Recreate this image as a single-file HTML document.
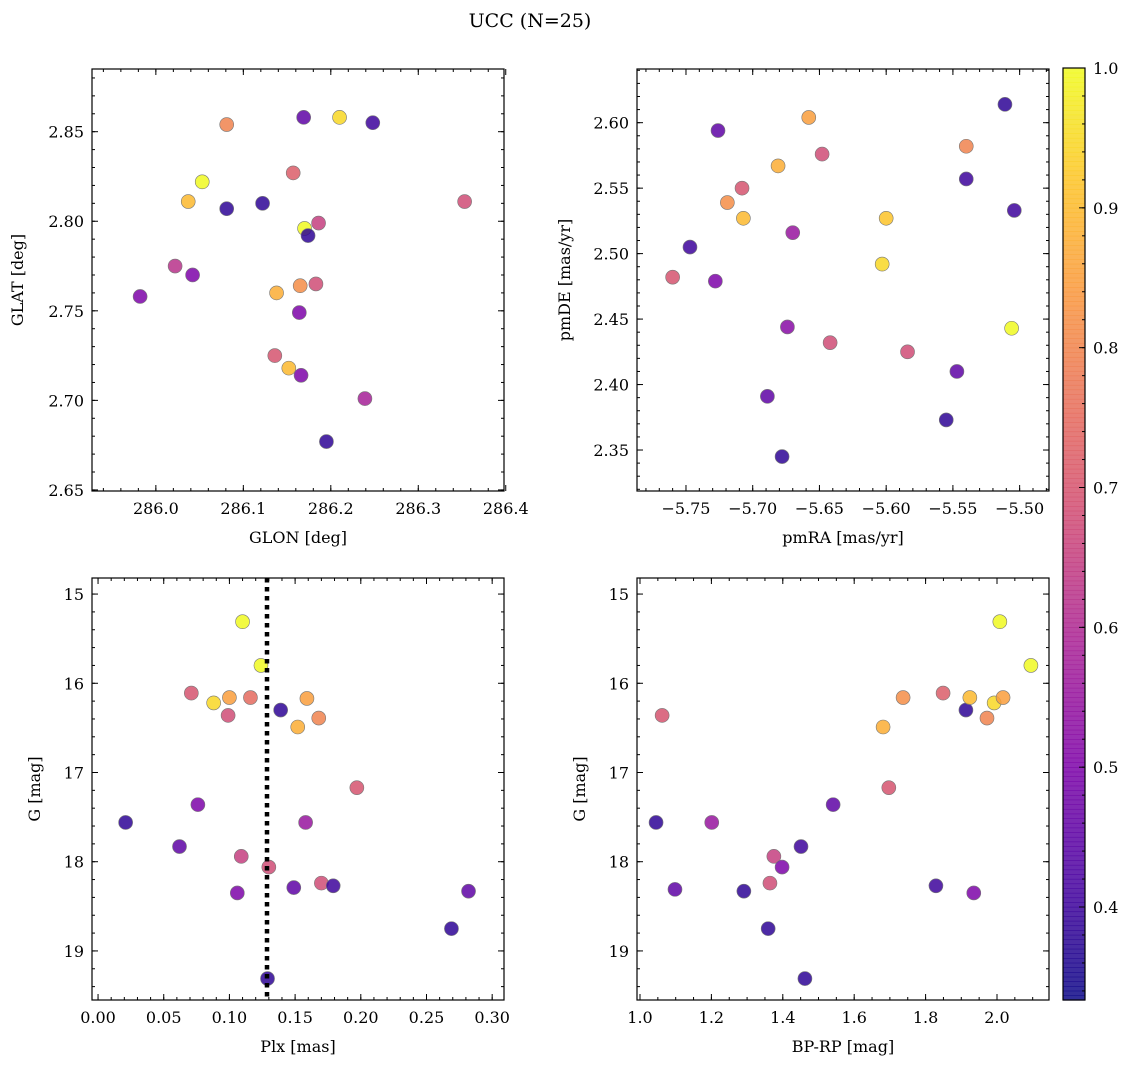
<!DOCTYPE html>
<html><head><meta charset="utf-8"><style>
body{margin:0;background:#fff}
svg text{font-family:"DejaVu Serif","Liberation Serif",serif;fill:#000}
</style></head><body>
<svg id="fig" width="1136" height="1068" viewBox="0 0 1136 1068" xmlns="http://www.w3.org/2000/svg">
<text x="530" y="27" text-anchor="middle" font-size="19">UCC (N=25)</text>
</svg>
<script>
// Panel 1: GLON vs GLAT
const glon=[285.982,286.022,286.042,286.037,286.053,286.081,286.081,286.122,286.138,286.136,286.152,286.157,286.164,286.165,286.166,286.169,286.170,286.174,286.183,286.186,286.195,286.210,286.239,286.248,286.353];
const glat=[2.758,2.775,2.770,2.811,2.822,2.854,2.807,2.810,2.760,2.725,2.718,2.827,2.749,2.764,2.714,2.858,2.796,2.792,2.765,2.799,2.677,2.858,2.701,2.855,2.811];
const prob1=[0.5,0.62,0.5,0.9,1.0,0.8,0.38,0.38,0.88,0.7,0.9,0.72,0.5,0.82,0.5,0.45,1.0,0.38,0.68,0.65,0.38,0.95,0.58,0.4,0.68];
// Panel 2: pmRA vs pmDE
const pmra=[-5.760,-5.747,-5.726,-5.728,-5.719,-5.708,-5.707,-5.689,-5.681,-5.678,-5.674,-5.670,-5.658,-5.648,-5.642,-5.603,-5.600,-5.584,-5.555,-5.547,-5.540,-5.540,-5.511,-5.506,-5.504];
const pmde=[2.482,2.505,2.594,2.479,2.539,2.550,2.527,2.391,2.567,2.345,2.444,2.516,2.604,2.576,2.432,2.492,2.527,2.425,2.373,2.410,2.557,2.582,2.614,2.443,2.533];
const prob2=[0.7,0.4,0.45,0.5,0.82,0.7,0.9,0.45,0.88,0.38,0.52,0.55,0.85,0.68,0.68,0.95,0.92,0.68,0.38,0.45,0.4,0.8,0.38,1.0,0.4];
// Panel 3: Plx vs G
const plx=[0.021,0.062,0.071,0.076,0.088,0.100,0.099,0.106,0.109,0.110,0.116,0.124,0.130,0.129,0.139,0.149,0.152,0.159,0.158,0.168,0.170,0.179,0.197,0.269,0.282];
const gmag3=[17.56,17.83,16.11,17.36,16.22,16.16,16.36,18.35,17.94,15.31,16.16,15.80,18.06,19.31,16.30,18.29,16.49,16.17,17.56,16.39,18.24,18.27,17.17,18.75,18.33];
const prob3=[0.38,0.45,0.7,0.5,0.95,0.85,0.68,0.5,0.65,1.0,0.75,1.0,0.68,0.38,0.38,0.45,0.88,0.85,0.55,0.8,0.68,0.4,0.7,0.38,0.45];
const plxLine=[0.1286];
// Panel 4: BP-RP vs G
const bprp=[1.045,1.062,1.098,1.201,1.291,1.359,1.364,1.375,1.398,1.451,1.462,1.541,1.681,1.697,1.737,1.829,1.849,1.913,1.924,1.935,1.972,1.992,2.008,2.017,2.095];
const gmag4=[17.56,16.36,18.31,17.56,18.33,18.75,18.24,17.94,18.06,17.83,19.31,17.36,16.49,17.17,16.16,18.27,16.11,16.30,16.16,18.35,16.39,16.22,15.31,16.16,15.80];
const prob4=[0.38,0.7,0.45,0.55,0.38,0.38,0.68,0.65,0.5,0.4,0.38,0.45,0.88,0.7,0.82,0.4,0.72,0.38,0.9,0.5,0.8,0.95,1.0,0.85,1.0];
// Tick labels
const ticks1x=[286.0,286.1,286.2,286.3,286.4], ticks1y=[2.65,2.70,2.75,2.80,2.85];
const ticks2x=[-5.75,-5.70,-5.65,-5.60,-5.55,-5.50], ticks2y=[2.35,2.40,2.45,2.50,2.55,2.60];
const ticks3x=[0,0.05,0.10,0.15,0.20,0.25,0.30], ticksGy=[15,16,17,18,19];
const ticks4x=[1.0,1.2,1.4,1.6,1.8,2.0];
const cbTicks=[0.4,0.5,0.6,0.7,0.8,0.9,1.0];
const cmin=0.3335,cmax=1.0;

const NS="http://www.w3.org/2000/svg";
const svg=document.getElementById('fig');
function el(t,a,p){const e=document.createElementNS(NS,t);for(const k in a)e.setAttribute(k,a[k]);(p||svg).appendChild(e);return e;}
const stops=[[0,[13,8,135]],[0.13,[75,3,161]],[0.25,[125,3,168]],[0.38,[168,34,150]],[0.5,[203,70,121]],[0.63,[229,107,93]],[0.75,[248,148,65]],[0.88,[253,195,40]],[1,[240,249,33]]];
function plasma(t){t=Math.max(0,Math.min(1,t));for(let i=1;i<stops.length;i++){if(t<=stops[i][0]){const a=stops[i-1],b=stops[i];const f=(t-a[0])/(b[0]-a[0]);const c=a[1].map((v,j)=>Math.round(v+(b[1][j]-v)*f));return `rgb(${c})`;}}return 'rgb(240,249,33)';}
function col(p){return plasma((p-cmin)/(cmax-cmin));}
function fmt(v,d){const s=Math.abs(v).toFixed(d);return (v<0?'\u2212':'')+s;}

function panel(o){
  const {x0,y0,w,h,xmin,xmax,ymin,ymax,inv}=o;
  const sx=v=>x0+(v-xmin)/(xmax-xmin)*w;
  const sy=v=>inv? y0+(v-ymin)/(ymax-ymin)*h : y0+h-(v-ymin)/(ymax-ymin)*h;
  const g=el('g',{});
  
  
  for(let i=0;i<o.xs.length;i++){
    const c=el('circle',{cx:sx(o.xs[i]),cy:sy(o.ys[i]),r:7,fill:col(o.ps[i]),'fill-opacity':0.85,stroke:'#777','stroke-width':0.6},g);
    
    
  }
  if(o.vline){for(const v of o.vline){const l=el('line',{x1:sx(v),x2:sx(v),y1:y0,y2:y0+h,stroke:'#000','stroke-width':4.5,'stroke-dasharray':'4.5,4.5'},g);
    
    }}
  el('rect',{x:x0,y:y0,width:w,height:h,fill:'none',stroke:'#000','stroke-width':1.2},g);
  const mx=o.xmin_step;
  for(let v=Math.ceil(xmin/mx)*mx; v<=xmax; v+=mx){const X=sx(v);el('line',{x1:X,x2:X,y1:y0+h,y2:y0+h-3,stroke:'#000'},g);el('line',{x1:X,x2:X,y1:y0,y2:y0+3,stroke:'#000'},g);}
  const my=o.ymin_step;
  for(let v=Math.ceil(ymin/my)*my; v<=ymax; v+=my){const Y=sy(v);el('line',{x1:x0,x2:x0+3,y1:Y,y2:Y,stroke:'#000'},g);el('line',{x1:x0+w,x2:x0+w-3,y1:Y,y2:Y,stroke:'#000'},g);}
  for(const v of o.xt){const X=sx(v);el('line',{x1:X,x2:X,y1:y0+h,y2:y0+h-6,stroke:'#000'},g);el('line',{x1:X,x2:X,y1:y0,y2:y0+6,stroke:'#000'},g);
    const t=el('text',{x:X,y:y0+h+23,'text-anchor':'middle','font-size':16},g);t.textContent=fmt(v,o.xd);
    
    }
  for(const v of o.yt){const Y=sy(v);el('line',{x1:x0,x2:x0+6,y1:Y,y2:Y,stroke:'#000'},g);el('line',{x1:x0+w,x2:x0+w-6,y1:Y,y2:Y,stroke:'#000'},g);
    const t=el('text',{x:x0-8,y:Y+6,'text-anchor':'end','font-size':16},g);t.textContent=fmt(v,o.yd);
    
    }
  const xl=el('text',{x:x0+w/2,y:y0+h+52,'text-anchor':'middle','font-size':16},g);xl.textContent=o.xlabel;
  
  
  const yx=o.ylx, yl=el('text',{x:yx,y:y0+h/2,'text-anchor':'middle','font-size':16,transform:`rotate(-90 ${yx} ${y0+h/2})`},g);yl.textContent=o.ylabel;
  
  
}
panel({name:'glon-glat-panel',x0:92,y0:69,w:412,h:422,xmin:285.927,xmax:286.398,ymin:2.6494,ymax:2.885,xs:glon,ys:glat,ps:prob1,xt:ticks1x,yt:ticks1y,xd:1,yd:2,xmin_step:0.02,ymin_step:0.01,xlabel:'GLON [deg]',ylabel:'GLAT [deg]',ylx:23});
panel({name:'proper-motion-panel',x0:637,y0:69,w:412,h:422,xmin:-5.7867,xmax:-5.478,ymin:2.3187,ymax:2.641,xs:pmra,ys:pmde,ps:prob2,xt:ticks2x,yt:ticks2y,xd:2,yd:2,xmin_step:0.01,ymin_step:0.01,xlabel:'pmRA [mas/yr]',ylabel:'pmDE [mas/yr]',ylx:570});
panel({name:'parallax-magnitude-panel',x0:92,y0:578,w:412,h:422,xmin:-0.0046,xmax:0.309,ymin:14.82,ymax:19.55,inv:true,xs:plx,ys:gmag3,ps:prob3,xt:ticks3x,yt:ticksGy,xd:2,yd:0,xmin_step:0.01,ymin_step:0.2,xlabel:'Plx [mas]',ylabel:'G [mag]',ylx:40,vline:plxLine});
panel({name:'color-magnitude-panel',x0:637,y0:578,w:412,h:422,xmin:0.9916,xmax:2.1457,ymin:14.82,ymax:19.55,inv:true,xs:bprp,ys:gmag4,ps:prob4,xt:ticks4x,yt:ticksGy,xd:1,yd:0,xmin_step:0.05,ymin_step:0.2,xlabel:'BP-RP [mag]',ylabel:'G [mag]',ylx:585});
// colorbar
const cb=el('g',{});


const cx0=1063,cw=22,cy0=68,ch=932;
for(let i=0;i<200;i++){el('rect',{x:cx0,y:cy0+ch-(i+1)*ch/200,width:cw,height:ch/200+0.6,fill:plasma(i/199),'fill-opacity':0.85},cb);}
el('rect',{x:cx0,y:cy0,width:cw,height:ch,fill:'none',stroke:'#000','stroke-width':1.2},cb);
const cy=v=>cy0+ch-(v-cmin)/(cmax-cmin)*ch;
for(let v=0.34;v<=1.0001;v+=0.02){el('line',{x1:cx0+cw,x2:cx0+cw-3,y1:cy(v),y2:cy(v),stroke:'#000'},cb);}
for(const v of cbTicks){el('line',{x1:cx0+cw,x2:cx0+cw-6,y1:cy(v),y2:cy(v),stroke:'#000'},cb);
  const t=el('text',{x:cx0+cw+8,y:cy(v)+6,'font-size':16},cb);t.textContent=v.toFixed(1);
  
  }
</script>
</body></html>
